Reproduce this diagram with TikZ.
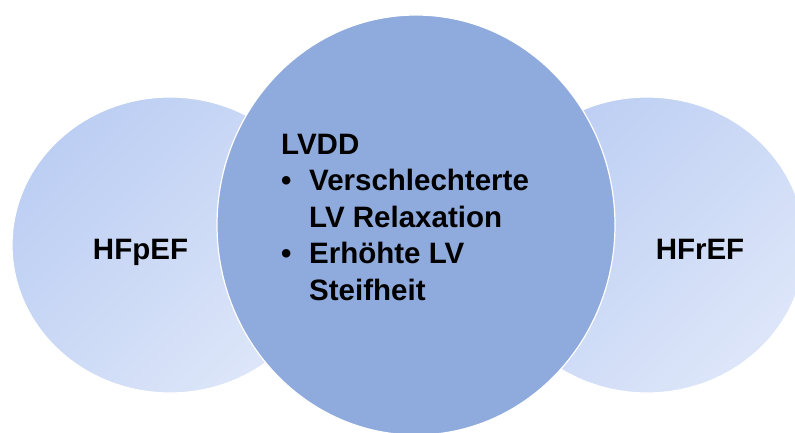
\documentclass[tikz,border=0pt]{standalone}
\usepackage{fontspec}
\setmainfont{Liberation Sans}
\definecolor{sidedark}{RGB}{188,206,243}
\definecolor{sidelight}{RGB}{221,230,249}
\definecolor{midblue}{RGB}{143,170,220}
\begin{document}
\begin{tikzpicture}[x=1pt,y=-1pt,
  sidecircle/.style={top color=sidedark, bottom color=sidelight, shading angle=45, draw=white, line width=1.2pt},
  midcircle/.style={fill=midblue, draw=white, line width=1.2pt},
  label/.style={font=\fontsize{29.5}{36.5}\selectfont\bfseries, inner sep=0pt}]

\useasboundingbox (0,0) rectangle (795,432);

% Side circles
\path[sidecircle] (170,245) ellipse [x radius=158pt, y radius=148pt];
\path[sidecircle] (647,245) ellipse [x radius=158pt, y radius=148pt];

% Middle circle
\path[midcircle] (416,225) ellipse [x radius=199pt, y radius=210pt];

% Labels
\node[label, anchor=base] (hfpef) at (140.5,259) {HFpEF};
\node[label, anchor=base] (hfref) at (700,259) {HFrEF};
\node[label, anchor=base west, align=left] (lvdd) at (281,300)
  {LVDD\\
   \makebox[28pt][l]{\textbullet}Verschlechterte\\
   \hspace*{28pt}LV Relaxation\\
   \makebox[28pt][l]{\textbullet}Erhöhte LV\\
   \hspace*{28pt}Steifheit};

\end{tikzpicture}
\end{document}
